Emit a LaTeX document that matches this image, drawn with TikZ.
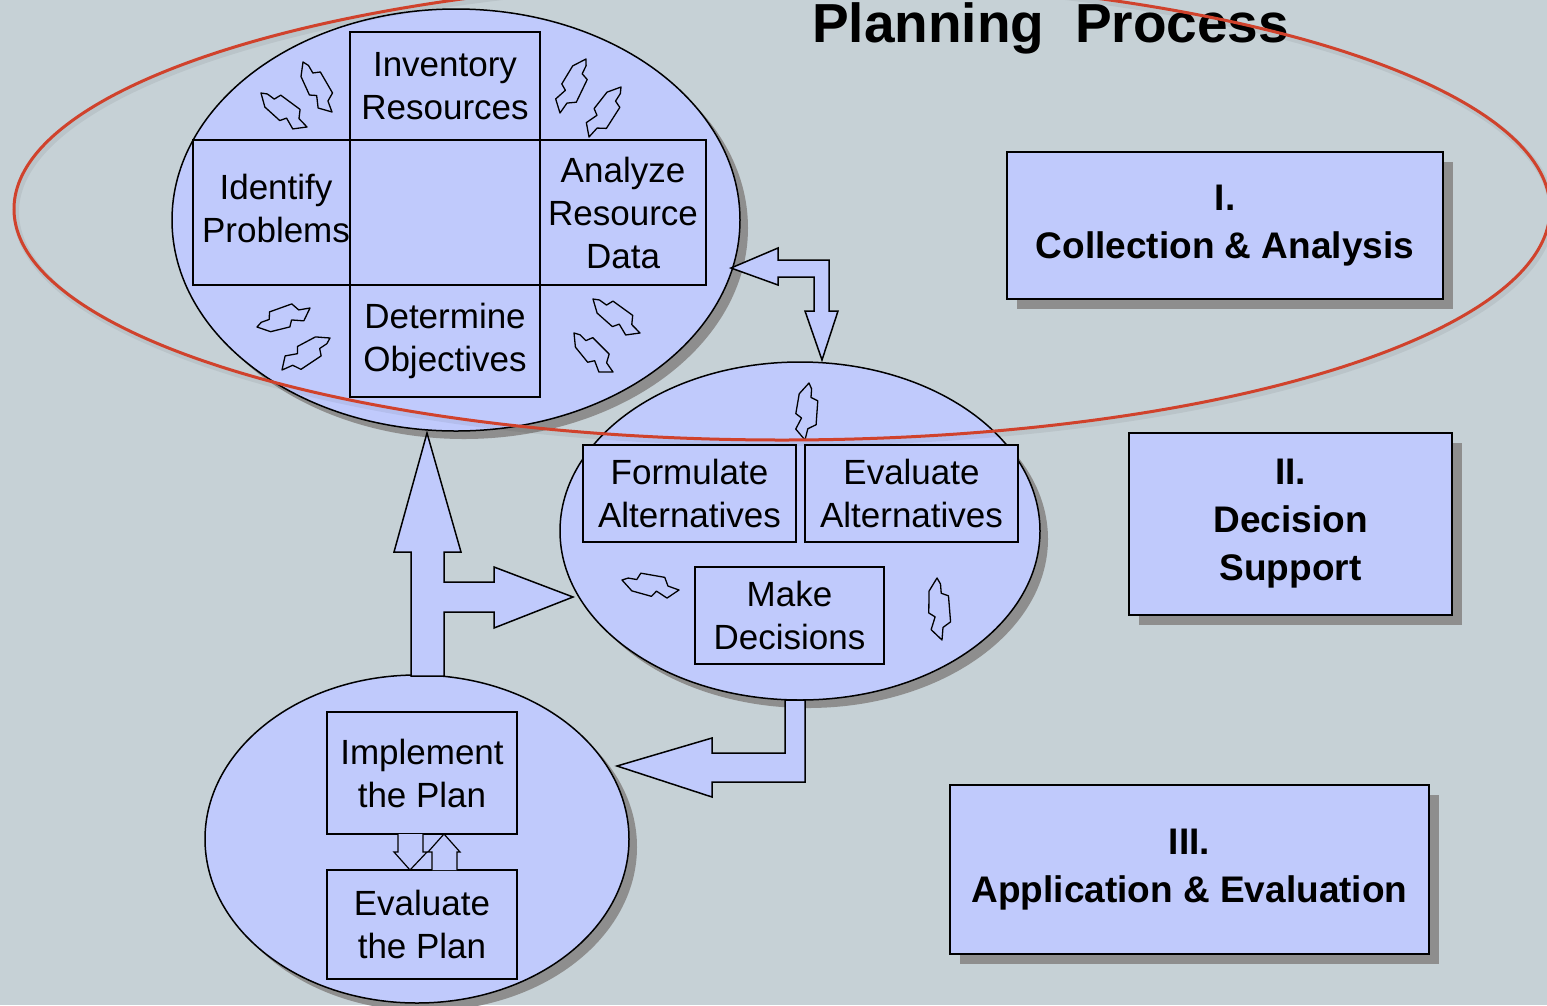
\documentclass[tikz,border=0pt]{standalone}
\usepackage{fontspec}
\setmainfont{Liberation Sans}
\usetikzlibrary{shapes.geometric,shadows}
\definecolor{bgc}{RGB}{198,209,214}
\definecolor{fillc}{RGB}{192,202,252}
\definecolor{shc}{RGB}{142,142,142}
\definecolor{redc}{RGB}{208,66,44}
\tikzset{
 ell/.style={ellipse, draw=black, line width=1.5pt, fill=fillc, inner sep=0pt, outer sep=0pt,
   drop shadow={shadow xshift=8pt, shadow yshift=-8pt, fill=shc, opacity=1}},
 ibox/.style={rectangle, draw=black, line width=1.5pt, fill=fillc, inner sep=0pt, align=center,
   font=\fontsize{35}{43}\selectfont},
 phase/.style={rectangle, draw=black, line width=2pt, fill=fillc, inner sep=0pt, align=center,
   font=\bfseries\fontsize{37}{48}\selectfont,
   drop shadow={shadow xshift=10pt, shadow yshift=-10pt, fill=shc, opacity=1}},
 blockarrow/.style={draw=black, line width=1.5pt, fill=fillc, line join=miter},
 wobst/.style={draw=black, line width=1.3pt, line join=round},
}
\newcommand{\wobarrow}[4]{%
 \pgfmathsetmacro\wobang{atan2(-(#4-#2),#3-#1)}%
 \pgfmathsetmacro\wl{veclen(#3-#1,#4-#2)}%
 \begin{scope}[shift={(#1,#2)}, rotate=\wobang]
  \draw[wobst] (0,0) -- ({0.2*\wl},9) -- ({0.55*\wl},11) -- ({0.62*\wl},5) -- ({0.82*\wl},10)
   -- ({\wl},0) -- ({0.8*\wl},-2) -- ({0.72*\wl},-10) -- ({0.3*\wl},-10) -- ({0.25*\wl},-3)
   -- ({0.1*\wl},-3) -- cycle;
 \end{scope}}
\begin{document}
\begin{tikzpicture}[x=1pt,y=-1pt]
\fill[bgc] (0,0) rectangle (1547,1005);
\useasboundingbox (0,0) rectangle (1547,1005);

% title
\node[anchor=base west, inner sep=0pt, font=\bfseries\fontsize{55}{60}\selectfont] (title) at (812,42) {Planning\ \ Process};

% ellipses
\node[ell, minimum width=568pt, minimum height=422pt] (e1) at (456,220) {};
\node[ell, minimum width=480pt, minimum height=338pt] (e2) at (800,531) {};
\node[ell, minimum width=424pt, minimum height=328pt] (e3) at (417,839) {};

% boxes in ellipse 1
\node[ibox, minimum width=190pt, minimum height=108pt] (inv) at (445,86) {Inventory\\Resources};
\node[ibox, minimum width=157pt, minimum height=145pt] (idp) at (271.5,212.5) {};
\node[ibox, minimum width=190pt, minimum height=145pt] (ctr) at (445,212.5) {};
\node[ibox, minimum width=166pt, minimum height=145pt] (ana) at (623,212.5) {Analyze\\Resource\\Data};
\node[ibox, minimum width=190pt, minimum height=112pt] (det) at (445,341) {Determine\\Objectives};
\node[inner sep=0pt, align=center, font=\fontsize{35}{43}\selectfont] (idpt) at (276,208) {Identify\\Problems};

% boxes in ellipse 2
\node[ibox, minimum width=213pt, minimum height=97pt] (form) at (689.5,493.5) {Formulate\\Alternatives};
\node[ibox, minimum width=213pt, minimum height=97pt] (evl) at (911.5,493.5) {Evaluate\\Alternatives};
\node[ibox, minimum width=189pt, minimum height=97pt] (mak) at (789.5,615.5) {Make\\Decisions};

% boxes in ellipse 3
\node[ibox, minimum width=190pt, minimum height=122pt] (imp) at (422,773) {Implement\\the Plan};
\node[ibox, minimum width=190pt, minimum height=109pt] (evp) at (422,924.5) {Evaluate\\the Plan};

% small arrows between implement and evaluate
\draw[blockarrow, line width=1.2pt] (398,834) -- (398,852) -- (394,852) -- (410,870) -- (427,852) -- (423,852) -- (423,834);
\draw[blockarrow, line width=1.2pt] (432,870) -- (432,852) -- (428,852) -- (444,834) -- (460,852) -- (457,852) -- (457,870);

% phase boxes
\node[phase, minimum width=436pt, minimum height=147pt] (p1) at (1225,225.5) {I.\\Collection \& Analysis};
\node[phase, minimum width=323pt, minimum height=182pt] (p2) at (1290.5,524) {II.\\Decision\\Support};
\node[phase, minimum width=479pt, minimum height=169pt] (p3) at (1189.5,869.5) {III.\\Application \& Evaluation};

% block arrow connectors
\draw[blockarrow] (411,676) -- (411,552) -- (394,552) -- (427,433) -- (461,552) -- (444,552)
  -- (444,582) -- (494,582) -- (494,567) -- (573,597) -- (494,628) -- (494,612) -- (444,612)
  -- (444,676) -- cycle;
\draw[blockarrow] (731,268) -- (778,248) -- (778,260) -- (829,260) -- (829,311) -- (838,311)
  -- (822,360) -- (805,311) -- (814,311) -- (814,277) -- (778,277) -- (778,285) -- cycle;
\draw[blockarrow] (785,700) -- (785,753) -- (712,753) -- (712,738) -- (617,766) -- (712,797)
  -- (712,782) -- (805,782) -- (805,700) -- cycle;

% cycle arrows
\wobarrow{261}{93}{307}{127}
\wobarrow{303}{62}{332}{112}
\wobarrow{586}{59}{560}{113}
\wobarrow{621}{87}{589}{137}
\wobarrow{257}{327}{310}{308}
\wobarrow{330}{338}{282}{370}
\wobarrow{593}{299}{640}{333}
\wobarrow{574}{333}{613}{372}
\wobarrow{809}{383}{805}{440}
\wobarrow{622}{580}{679}{590}
\wobarrow{937}{578}{942}{640}

% red ellipse
\draw[black, opacity=0.06, line width=6pt] (784,212) ellipse [x radius=768pt, y radius=231pt];
\draw[redc, line width=3pt] (782,209) ellipse [x radius=768pt, y radius=231pt];
\end{tikzpicture}
\end{document}
